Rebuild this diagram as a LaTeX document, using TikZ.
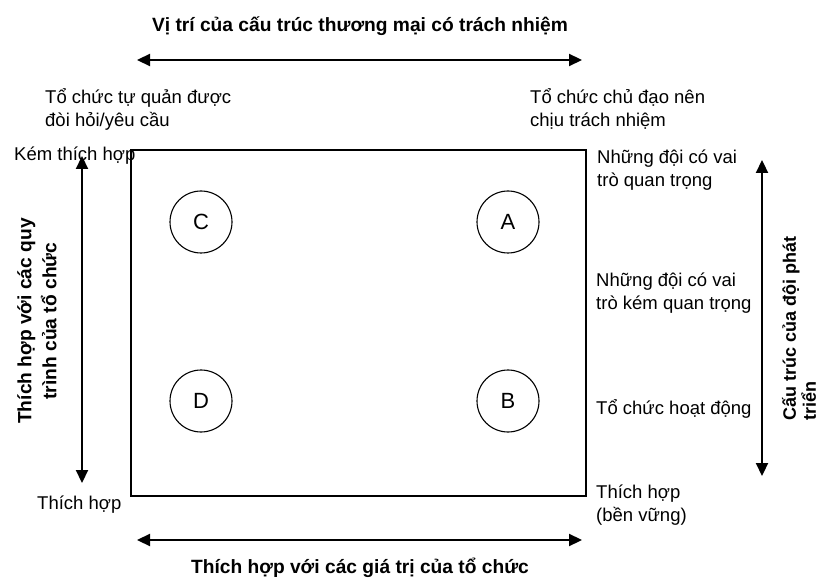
\documentclass[tikz,border=0pt]{standalone}
\usepackage{fontspec}
\setmainfont{Liberation Sans}
\usetikzlibrary{arrows.meta}
\tikzset{
  axis/.style={{Triangle[length=13pt,width=12pt]}-{Triangle[length=13pt,width=12pt]}, line width=2.2pt},
  lbl/.style={inner sep=0pt, align=left, font=\fontsize{18.5}{23}\selectfont},
  heading/.style={inner sep=0pt, font=\fontsize{19.2}{25}\selectfont\bfseries},
  quad/.style={draw, circle, minimum size=62pt, inner sep=0pt, line width=1.1pt, font=\fontsize{22}{26}\selectfont},
}

\begin{document}
\begin{tikzpicture}[x=1pt,y=-1pt]
\useasboundingbox (0,0) rectangle (822,585);

% the grid box and the four quadrants
\draw[line width=1.8pt] (131,150) rectangle (586,496);
\node[quad] (C) at (201,222) {C};
\node[quad] (A) at (508,222) {A};
\node[quad] (D) at (201,401) {D};
\node[quad] (B) at (508,401) {B};

% top axis
\coordinate (topL) at (137,60);
\coordinate (topR) at (582,60);
\draw[axis] (topL) -- (topR);
\node[heading, anchor=base] (topT) at (360,32) {Vị trí của cấu trúc thương mại có trách nhiệm};
\node[lbl, anchor=base west] (selfOrg) at (45,127) {Tổ chức tự quản được\\đòi hỏi/yêu cầu};
\node[lbl, anchor=base west] (leadOrg) at (530,127) {Tổ chức chủ đạo nên\\chịu trách nhiệm};

% bottom axis
\coordinate (botL) at (137,540);
\coordinate (botR) at (582,540);
\draw[axis] (botL) -- (botR);
\node[heading, anchor=base] (botT) at (360,573) {Thích hợp với các giá trị của tổ chức};

% left axis
\coordinate (leftT) at (82,156);
\coordinate (leftB) at (82,483);
\draw[axis] (leftT) -- (leftB);
\node[lbl, anchor=base west] (poorFit) at (14,161) {Kém thích hợp};
\node[lbl, anchor=base west] (goodFit) at (37,509) {Thích hợp};
\node[heading, align=center, rotate=90] (leftT2) at (37,321) {Thích hợp với các quy\\trình của tổ chức};

% right axis
\coordinate (rightT) at (762,160);
\coordinate (rightB) at (762,476);
\draw[axis] (rightT) -- (rightB);
\node[lbl, anchor=base west] (keyTeams) at (597,187) {Những đội có vai\\trò quan trọng};
\node[lbl, anchor=base west] (minorTeams) at (596,310) {Những đội có vai\\trò kém quan trọng};
\node[lbl, anchor=base west] (opsOrg) at (596,414) {Tổ chức hoạt động};
\node[lbl, anchor=base west] (stable) at (596,521) {Thích hợp\\(bền vững)};
\node[heading, font=\fontsize{18}{20}\selectfont\bfseries, align=left, rotate=90, anchor=west] (rightT2) at (799,421) {Cấu trúc của đội phát\\triển};
\end{tikzpicture}
\end{document}
